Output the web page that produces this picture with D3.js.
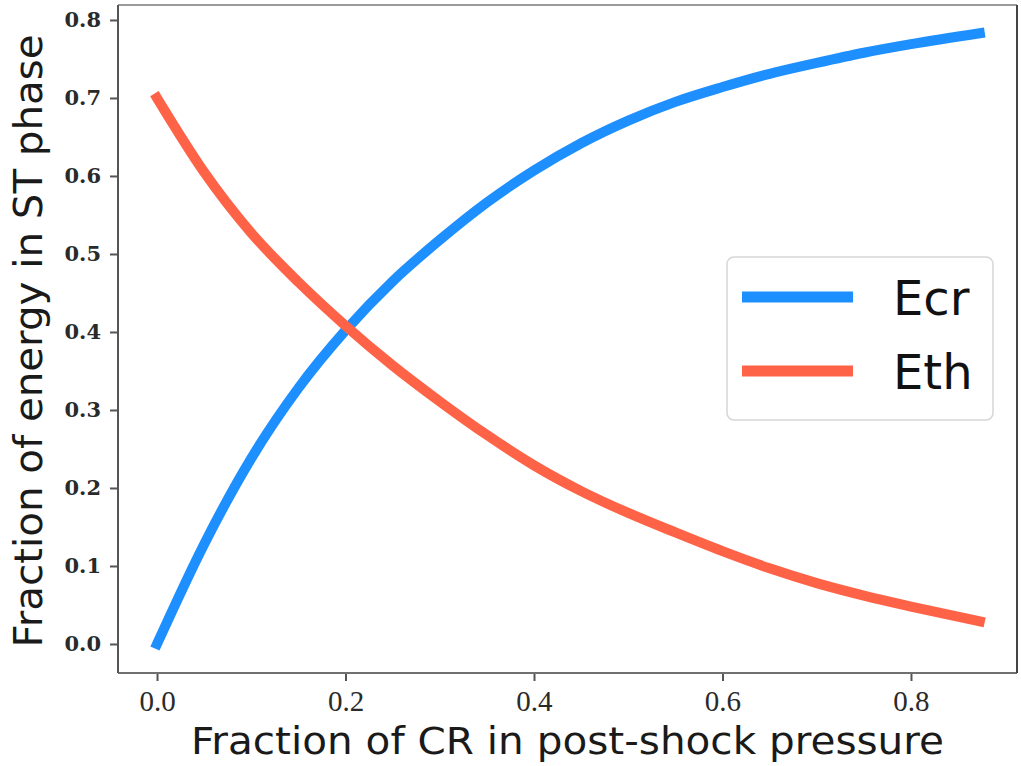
<!DOCTYPE html>
<html>
<head>
<meta charset="utf-8">
<script src="https://cdn.jsdelivr.net/npm/d3@7"></script>
<style>
  html, body { margin: 0; padding: 0; background: #fff; }
  svg { display: block; }
</style>
</head>
<body>
<svg id="chart" width="1021" height="766"></svg>
<script>
// Fraction of CR pressure behind the shock (x) and the resulting energy split in the Sedov-Taylor phase
const crFraction = [0.00, 0.05, 0.10, 0.15, 0.20, 0.25, 0.30, 0.35, 0.40, 0.45, 0.50, 0.55, 0.60, 0.65, 0.70, 0.75, 0.80, 0.873];
const ecrValues  = [0.000, 0.128, 0.238, 0.328, 0.402, 0.465, 0.518, 0.566, 0.607, 0.642, 0.671, 0.695, 0.714, 0.731, 0.745, 0.758, 0.769, 0.783];
const ethValues  = [0.700, 0.605, 0.527, 0.464, 0.408, 0.357, 0.311, 0.268, 0.229, 0.196, 0.168, 0.143, 0.119, 0.097, 0.078, 0.062, 0.048, 0.029];

const seriesNames  = ["Ecr", "Eth"];
const seriesColors = ["#1E8FFF", "#FF6347"];
const xTickValues  = [0.0, 0.2, 0.4, 0.6, 0.8];
const yTickValues  = [0.0, 0.1, 0.2, 0.3, 0.4, 0.5, 0.6, 0.7, 0.8];

const xLabelText = "Fraction of CR in post-shock pressure";
const yLabelText = "Fraction of energy in ST phase";

const svg = d3.select("#chart");
const plot = { left: 118, right: 1017, top: 5, bottom: 673 };

const x = d3.scaleLinear().domain([-0.0414, 0.9125]).range([plot.left, plot.right]);
const y = d3.scaleLinear().domain([-0.0372, 0.8192]).range([plot.bottom, plot.top]);

// Axes
const yAxis = d3.axisLeft(y).tickValues(yTickValues).tickFormat(d3.format(".1f")).tickSize(8).tickPadding(9);
const xAxis = d3.axisBottom(x).tickValues(xTickValues).tickFormat(d3.format(".1f")).tickSize(8).tickPadding(9);

const gy = svg.append("g").attr("transform", `translate(${plot.left},0)`).call(yAxis);
gy.select(".domain").remove();
gy.selectAll(".tick line").attr("stroke", "#555").attr("stroke-width", 2);
gy.selectAll(".tick text")
  .attr("font-family", "'DejaVu Serif', serif")
  .attr("font-weight", "bold")
  .attr("font-size", 21)
  .attr("fill", "#2a2a2a");

const gx = svg.append("g").attr("transform", `translate(0,${plot.bottom})`).call(xAxis);
gx.select(".domain").remove();
gx.selectAll(".tick line").attr("stroke", "#555").attr("stroke-width", 2);
gx.selectAll(".tick text")
  .attr("font-family", "'Liberation Serif', serif")
  .attr("font-size", 29)
  .attr("fill", "#2a2a2a");

// Frame around the plotting area
const frame = svg.append("g").attr("fill", "none").attr("stroke-width", 2);
frame.append("line").attr("x1", plot.left).attr("x2", plot.right).attr("y1", plot.top).attr("y2", plot.top).attr("stroke", "#9a9a9a");
frame.append("line").attr("x1", plot.left).attr("x2", plot.right).attr("y1", plot.bottom).attr("y2", plot.bottom).attr("stroke", "#707070");
frame.append("line").attr("x1", plot.left).attr("x2", plot.left).attr("y1", plot.top).attr("y2", plot.bottom).attr("stroke", "#555");
frame.append("line").attr("x1", plot.right).attr("x2", plot.right).attr("y1", plot.top).attr("y2", plot.bottom).attr("stroke", "#444");

// Curves (smooth monotone interpolation through the sampled values)
const line = d3.line().x(d => x(d[0])).y(d => y(d[1])).curve(d3.curveMonotoneX);
const series = [ecrValues, ethValues].map(vals => crFraction.map((c, i) => [c, vals[i]]));
series.forEach((pts, i) => {
  svg.append("path")
    .datum(pts)
    .attr("d", line)
    .attr("fill", "none")
    .attr("stroke", seriesColors[i])
    .attr("stroke-width", 10)
    .attr("stroke-linecap", "square")
    .attr("stroke-linejoin", "round");
});

// Axis titles
svg.append("text")
  .attr("x", (plot.left + plot.right) / 2)
  .attr("y", 754)
  .attr("text-anchor", "middle")
  .attr("font-family", "'DejaVu Sans', sans-serif")
  .attr("font-size", 37)
  .attr("textLength", 753)
  .attr("lengthAdjust", "spacingAndGlyphs")
  .attr("fill", "#1a1a1a")
  .text(xLabelText);

svg.append("text")
  .attr("transform", `translate(42,341) rotate(-90)`)
  .attr("text-anchor", "middle")
  .attr("font-family", "'DejaVu Sans', sans-serif")
  .attr("font-size", 39)
  .attr("textLength", 613)
  .attr("lengthAdjust", "spacingAndGlyphs")
  .attr("fill", "#1a1a1a")
  .text(yLabelText);

// Legend
const legend = svg.append("g");
legend.append("rect")
  .attr("x", 727).attr("y", 257).attr("width", 266).attr("height", 163)
  .attr("rx", 7).attr("ry", 7)
  .attr("fill", "#fff").attr("stroke", "#d6d6d6").attr("stroke-width", 1.5);
seriesNames.forEach((name, i) => {
  const ly = 297 + i * 74;
  legend.append("line")
    .attr("x1", 742).attr("x2", 853).attr("y1", ly).attr("y2", ly)
    .attr("stroke", seriesColors[i]).attr("stroke-width", 11);
  legend.append("text")
    .attr("x", 893).attr("y", ly + 18)
    .attr("font-family", "'DejaVu Sans', sans-serif")
    .attr("font-size", 48)
    .attr("fill", "#111")
    .text(name);
});
</script>
</body>
</html>
